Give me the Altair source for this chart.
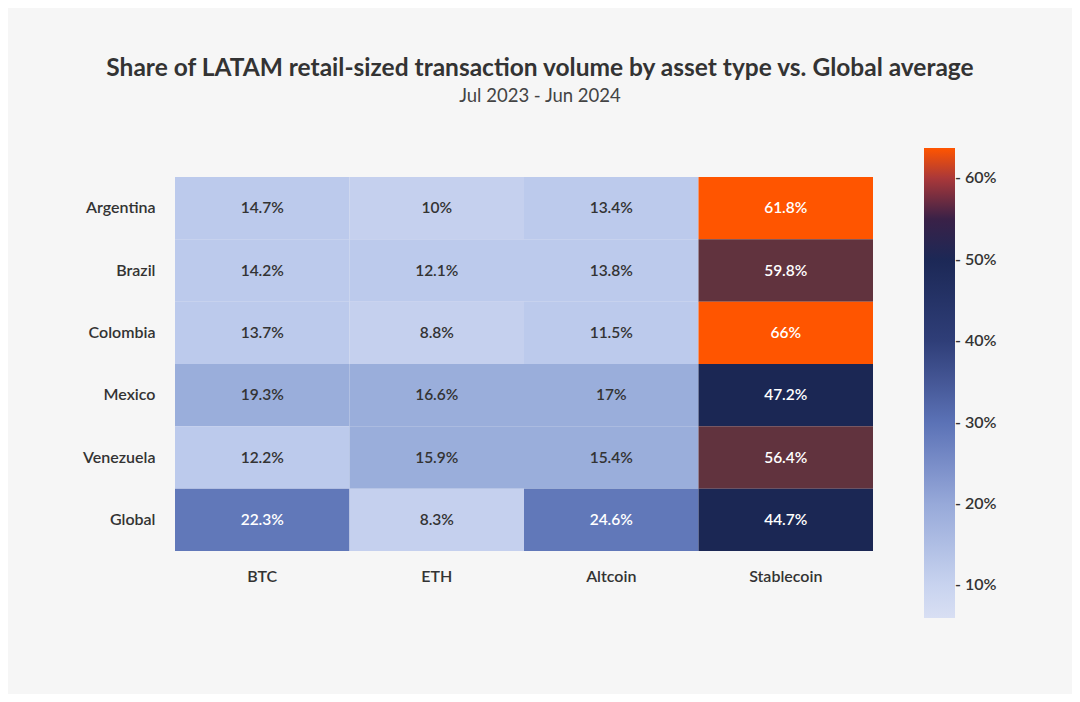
import altair as alt
import pandas as pd

countries = ["Argentina", "Brazil", "Colombia", "Mexico", "Venezuela", "Global"]
assets = ["BTC", "ETH", "Altcoin", "Stablecoin"]
btc = [14.7, 14.2, 13.7, 19.3, 12.2, 22.3]
eth = [10, 12.1, 8.8, 16.6, 15.9, 8.3]
altcoin = [13.4, 13.8, 11.5, 17, 15.4, 24.6]
stablecoin = [61.8, 59.8, 66, 47.2, 56.4, 44.7]

series = {"BTC": btc, "ETH": eth, "Altcoin": altcoin, "Stablecoin": stablecoin}
rows = []
for a in assets:
    for c, v in zip(countries, series[a]):
        rows.append({"country": c, "asset": a, "value": v, "label": f"{v:g}%"})
df = pd.DataFrame(rows)

FONT = "Lato"
DARK = "#333333"

cell_thresholds = [11, 15, 20, 35, 52, 60.5]
cell_colors = ["#c5d0ee", "#bccaec", "#9aaedb", "#6178b9", "#1b2754", "#61333e", "#ff5500"]

legend_domain = [6, 10, 20, 30, 40, 50, 54, 57, 63.7]
legend_colors = ["#d8dff3", "#c8d3ef", "#97a9d9", "#5b72b6", "#2f3e78",
                 "#1c2856", "#14214b", "#5a3036", "#ff5500"]

x = alt.X("asset:N", sort=assets, title=None,
          axis=alt.Axis(labelAngle=0, labelFont=FONT, labelFontSize=16, labelFontWeight=600,
                        labelColor=DARK, labelPadding=17, ticks=False, domain=False))
y = alt.Y("country:N", sort=countries, title=None,
          axis=alt.Axis(labelFont=FONT, labelFontSize=16, labelFontWeight=600,
                        labelColor=DARK, labelPadding=20, ticks=False, domain=False))

base = alt.Chart(df).encode(x=x, y=y)

cells = base.mark_rect().encode(
    color=alt.Color("value:Q", scale=alt.Scale(type="threshold", domain=cell_thresholds,
                                               range=cell_colors), legend=None)
)

texts = base.mark_text(font=FONT, fontSize=15.5, fontWeight=600).encode(
    text="label:N",
    color=alt.condition(alt.datum.value > 20, alt.value("white"), alt.value(DARK)),
)

legend_layer = base.mark_point(opacity=0).encode(
    color=alt.Color("value:Q",
                    scale=alt.Scale(domain=legend_domain, range=legend_colors),
                    legend=alt.Legend(orient="none", legendX=749, legendY=-29,
                                      direction="vertical", gradientLength=470,
                                      gradientThickness=31, gradientStrokeWidth=0,
                                      values=[10, 20, 30, 40, 50, 60],
                                      labelExpr="'- ' + datum.value + '%'",
                                      labelFont=FONT, labelFontSize=16, labelFontWeight=600,
                                      labelColor=DARK, labelOffset=0, title=None))
)

chart = alt.layer(cells, texts, legend_layer).resolve_scale(color="independent").properties(
    width=698,
    height=374,
    autosize=alt.AutoSizeParams(type="none"),
    padding={"left": 167, "top": 169, "right": 199, "bottom": 143},
    background="#f6f6f6",
    title=alt.TitleParams(
        text="Share of LATAM retail-sized transaction volume by asset type vs. Global average",
        subtitle="Jul 2023 - Jun 2024",
        font=FONT, fontSize=24.5, fontWeight="bold", color=DARK,
        subtitleFont=FONT, subtitleFontSize=18.5, subtitleColor="#444444",
        subtitlePadding=5, anchor="middle", frame="group", dx=16, offset=42,
    ),
).configure_view(stroke=None)

chart.save("out.html", embed_options={"renderer": "svg", "actions": False})
